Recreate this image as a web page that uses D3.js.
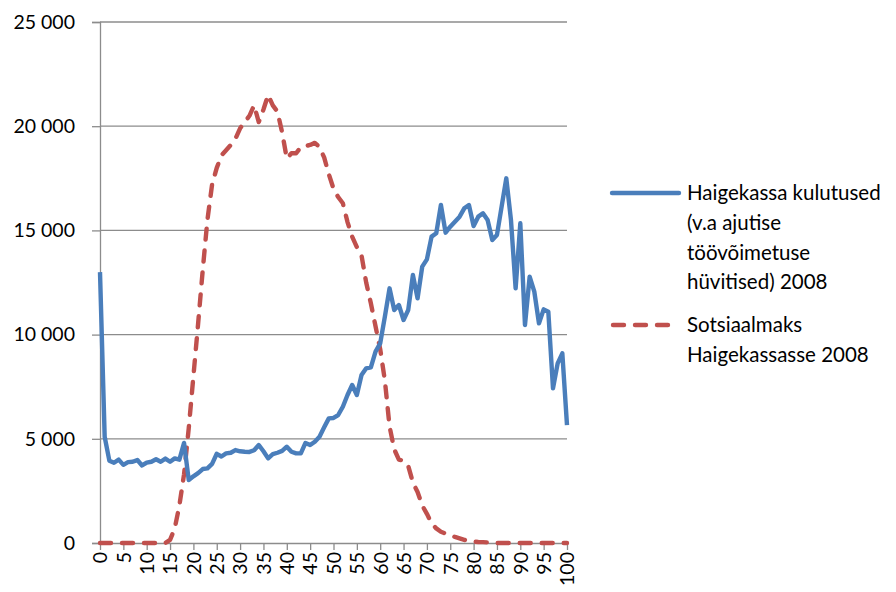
<!DOCTYPE html>
<html>
<head>
<meta charset="utf-8">
<script src="https://cdn.jsdelivr.net/npm/d3@7"></script>
<style>
  body { margin: 0; background: #fff; }
  svg text { font-family: Lato, "Liberation Sans", sans-serif; fill: #000; }
</style>
</head>
<body>
<div id="chart"></div>
<script>
// ages 0..100
const ages = d3.range(0, 101);

const costs = [
  13000, 5100, 3950, 3850, 4000, 3750, 3880, 3900, 3980, 3720,
  3860, 3900, 4020, 3900, 4050, 3900, 4060, 4000, 4800, 3020,
  3200, 3350, 3550, 3580, 3800, 4280, 4150, 4300, 4330, 4460,
  4400, 4380, 4370, 4450, 4700, 4400, 4060, 4260, 4330, 4420,
  4620, 4380, 4300, 4300, 4800, 4700, 4860, 5100, 5550, 5980,
  6000, 6140, 6540, 7100, 7580, 7100, 8060, 8380, 8430, 9180,
  9580, 10860, 12220, 11180, 11420, 10700, 11180, 12860, 11740, 13260,
  13610, 14700, 14860, 16220, 14890, 15180, 15420, 15660, 16060, 16220,
  15210, 15660, 15820, 15500, 14540, 14780, 16140, 17500, 15500, 12220,
  15340, 10460, 12780, 12060, 10540, 11210, 11100, 7420, 8620, 9100,
  5660
];

const socialTax = [
  0, 0, 0, 0, 0, 0, 0, 0, 0, 0,
  0, 0, 0, 0, 0, 150, 700, 1800, 3300, 5500,
  8000, 10500, 13100, 15500, 17200, 18000, 18600, 18850, 19100, 19400,
  19900, 20200, 20500, 21000, 20200, 20800, 21500, 21000, 20700, 19700,
  18450, 18700, 18700, 19000, 19050, 19100, 19200, 19000, 18500, 17700,
  17000, 16600, 16300, 15400, 14700, 14200, 13800, 12500, 11500, 10400,
  9300, 7800, 5600, 4500, 4000, 3950, 3700, 2900, 2450, 1800,
  1400, 950, 700, 540, 450, 370, 290, 220, 150, 100,
  70, 50, 40, 30, 20, 0, 0, 0, 0, 0,
  0, 0, 0, 0, 0, 0, 0, 0, 0, 0,
  0
];

const yTicks = [0, 5000, 10000, 15000, 20000, 25000];
const xTicks = d3.range(0, 101, 5);

const legendCosts = ["Haigekassa kulutused", "(v.a ajutise", "töövõimetuse", "hüvitised) 2008"];
const legendTax = ["Sotsiaalmaks", "Haigekassasse 2008"];

const width = 896;
const height = 592;
const plot = { left: 100, right: 567, top: 22, bottom: 543 };

const svg = d3.select("#chart")
    .append("svg")
    .attr("width", width)
    .attr("height", height);

const x = d3.scaleLinear()
    .domain([0, 100])
    .range([plot.left, plot.right]);

const y = d3.scaleLinear()
    .domain([0, 25000])
    .range([plot.bottom, plot.top]);

const fmt = d3.formatLocale({ decimal: ",", thousands: " ", grouping: [3], currency: ["", ""] }).format(",");

// horizontal gridlines
svg.append("g")
    .selectAll("line")
    .data(yTicks.filter(d => d > 0))
    .enter().append("line")
    .attr("x1", plot.left)
    .attr("x2", plot.right)
    .attr("y1", d => y(d))
    .attr("y2", d => y(d))
    .attr("stroke", "#8c8c8c")
    .attr("stroke-width", 1.3);

// y axis
const yAxis = svg.append("g")
    .attr("transform", `translate(${plot.left},0)`)
    .call(d3.axisLeft(y).tickValues(yTicks).tickSize(8).tickPadding(17).tickFormat(fmt));
yAxis.select(".domain").attr("stroke", "#8c8c8c").attr("stroke-width", 1.3);
yAxis.selectAll(".tick line").attr("stroke", "#8c8c8c").attr("stroke-width", 1.3);
yAxis.selectAll("text").style("font-size", "19.5px");

// x axis
const xAxis = svg.append("g")
    .attr("transform", `translate(0,${plot.bottom})`)
    .call(d3.axisBottom(x).tickValues(xTicks).tickSize(7).tickSizeOuter(0));
xAxis.select(".domain").attr("stroke", "#8c8c8c").attr("stroke-width", 1.3);
xAxis.selectAll(".tick line").attr("stroke", "#8c8c8c").attr("stroke-width", 1.3);
xAxis.selectAll("text")
    .style("font-size", "19.5px")
    .attr("text-anchor", "end")
    .attr("transform", "rotate(-90)")
    .attr("x", -9)
    .attr("y", 0)
    .attr("dy", "0.35em");

const line = d3.line()
    .x((d, i) => x(ages[i]))
    .y(d => y(d));

svg.append("path")
    .datum(socialTax)
    .attr("fill", "none")
    .attr("stroke", "#c0504d")
    .attr("stroke-width", 4.4)
    .attr("stroke-linecap", "round")
    .attr("stroke-linejoin", "round")
    .attr("stroke-dasharray", "11,11")
    .attr("d", line);

svg.append("path")
    .datum(costs)
    .attr("fill", "none")
    .attr("stroke", "#4a7ebb")
    .attr("stroke-width", 4.4)
    .attr("stroke-linejoin", "round")
    .attr("d", line);

// legend
const legend = svg.append("g");

legend.append("line")
    .attr("x1", 612).attr("x2", 679)
    .attr("y1", 193).attr("y2", 193)
    .attr("stroke", "#4a7ebb")
    .attr("stroke-width", 4.4)
    .attr("stroke-linecap", "round");

legend.append("text")
    .attr("x", 687)
    .attr("y", 200)
    .style("font-size", "20.5px")
    .selectAll("tspan")
    .data(legendCosts)
    .enter().append("tspan")
    .attr("x", 687)
    .attr("dy", (d, i) => i === 0 ? 0 : 29.8)
    .text(d => d);

legend.append("line")
    .attr("x1", 613).attr("x2", 678)
    .attr("y1", 325).attr("y2", 325)
    .attr("stroke", "#c0504d")
    .attr("stroke-width", 4.4)
    .attr("stroke-linecap", "round")
    .attr("stroke-dasharray", "11,11");

legend.append("text")
    .attr("x", 687)
    .attr("y", 332)
    .style("font-size", "20.5px")
    .selectAll("tspan")
    .data(legendTax)
    .enter().append("tspan")
    .attr("x", 687)
    .attr("dy", (d, i) => i === 0 ? 0 : 29.8)
    .text(d => d);
</script>
</body>
</html>
